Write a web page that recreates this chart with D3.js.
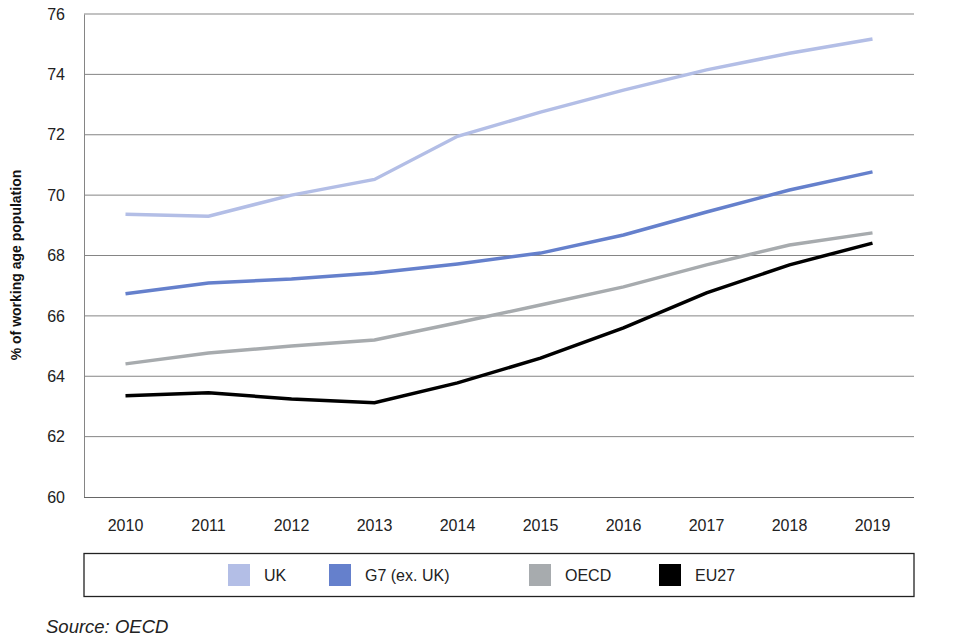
<!DOCTYPE html>
<html>
<head>
<meta charset="utf-8">
<script src="https://cdn.jsdelivr.net/npm/d3@7"></script>
<style>
  body { margin: 0; background: #fff; }
  svg { font-family: "Liberation Sans", Arial, sans-serif; }
</style>
</head>
<body>
<svg></svg>
<script>
const years = ["2010", "2011", "2012", "2013", "2014", "2015", "2016", "2017", "2018", "2019"];
const ukValues = [69.37, 69.3, 70.0, 70.52, 71.95, 72.75, 73.48, 74.15, 74.7, 75.17];
const g7Values = [66.73, 67.09, 67.22, 67.42, 67.72, 68.08, 68.68, 69.44, 70.17, 70.77];
const oecdValues = [64.41, 64.77, 65.0, 65.2, 65.77, 66.36, 66.96, 67.69, 68.35, 68.75];
const eu27Values = [63.35, 63.45, 63.25, 63.12, 63.78, 64.6, 65.6, 66.76, 67.69, 68.41];
const yTicks = [60, 62, 64, 66, 68, 70, 72, 74, 76];

const series = [
    { name: "UK", values: ukValues, color: "#b3bee6" },
    { name: "G7 (ex. UK)", values: g7Values, color: "#6580cc" },
    { name: "OECD", values: oecdValues, color: "#a7abae" },
    { name: "EU27", values: eu27Values, color: "#000000" }
];

const width = 960,
    height = 640;
const plot = { left: 84, right: 914, top: 14, bottom: 497 };

const svg = d3.select("svg").attr("width", width).attr("height", height);

const xScale = d3
    .scaleBand()
    .domain(years)
    .range([plot.left, plot.right]);

const yScale = d3
    .scaleLinear()
    .domain([60, 76])
    .range([plot.bottom, plot.top]);

// gridlines
svg.append("g")
    .selectAll("line")
    .data(yTicks.slice(1))
    .enter()
    .append("line")
    .attr("x1", plot.left)
    .attr("x2", plot.right)
    .attr("y1", (d) => yScale(d))
    .attr("y2", (d) => yScale(d))
    .attr("stroke", "#858585")
    .attr("stroke-width", 1);

// y axis
const yAxis = svg.append("g")
    .attr("transform", "translate(" + plot.left + ",0)")
    .call(d3.axisLeft(yScale).tickValues(yTicks).tickSize(0).tickPadding(19));
yAxis.select(".domain").attr("stroke", "#858585");
yAxis.selectAll("text")
    .attr("font-size", 16)
    .attr("fill", "#222")
    .attr("font-family", "Liberation Sans, Arial, sans-serif");

// x axis
const xAxis = svg.append("g")
    .attr("transform", "translate(0," + plot.bottom + ")")
    .call(d3.axisBottom(xScale).tickSize(0).tickPadding(23));
xAxis.select(".domain").attr("stroke", "#666").attr("d", "M" + plot.left + ",0.5H" + plot.right);
xAxis.selectAll("text")
    .attr("font-size", 16)
    .attr("fill", "#222")
    .attr("font-family", "Liberation Sans, Arial, sans-serif");

// y axis title
svg.append("text")
    .attr("transform", "translate(21,265) rotate(-90)")
    .attr("text-anchor", "middle")
    .attr("font-size", 14)
    .attr("font-weight", "bold")
    .attr("fill", "#111")
    .text("% of working age population");

// lines
const line = d3
    .line()
    .x((d, i) => xScale(years[i]) + xScale.bandwidth() / 2)
    .y((d) => yScale(d));

svg.append("g")
    .selectAll("path")
    .data(series)
    .enter()
    .append("path")
    .attr("d", (s) => line(s.values))
    .attr("fill", "none")
    .attr("stroke", (s) => s.color)
    .attr("stroke-width", 3.5);

// legend
svg.append("rect")
    .attr("x", plot.left)
    .attr("y", 553.5)
    .attr("width", plot.right - plot.left)
    .attr("height", 43)
    .attr("fill", "none")
    .attr("stroke", "#222")
    .attr("stroke-width", 1.3);

const legendX = [228, 329, 529, 659];
const legend = svg.append("g")
    .selectAll("g")
    .data(series)
    .enter()
    .append("g")
    .attr("transform", (s, i) => "translate(" + legendX[i] + ",564)");
legend.append("rect")
    .attr("width", 22)
    .attr("height", 22)
    .attr("fill", (s) => s.color);
legend.append("text")
    .attr("x", 36)
    .attr("y", 17)
    .attr("font-size", 16)
    .attr("fill", "#222")
    .text((s) => s.name);

// source
svg.append("text")
    .attr("x", 46)
    .attr("y", 633)
    .attr("font-size", 18.5)
    .attr("font-style", "italic")
    .attr("fill", "#222")
    .text("Source: OECD");
</script>
</body>
</html>
